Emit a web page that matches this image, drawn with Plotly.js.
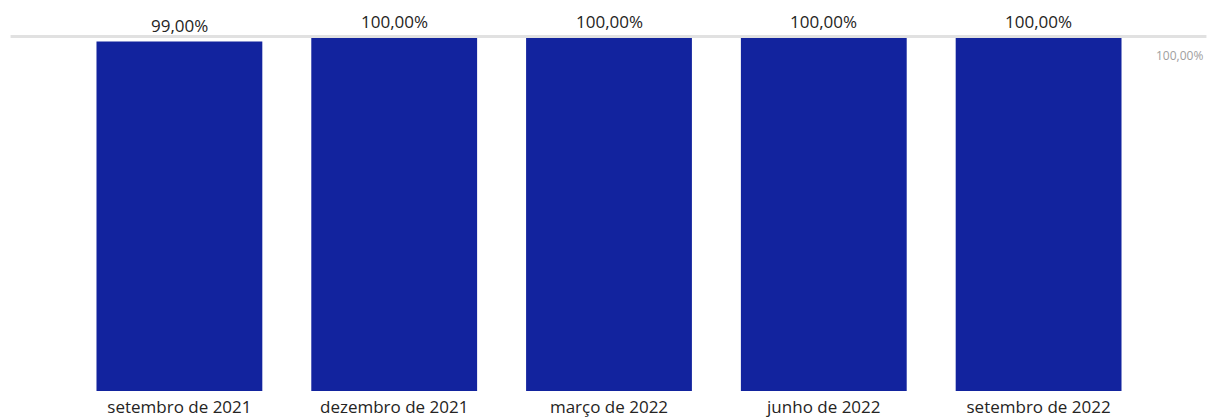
<!DOCTYPE html>
<html>
<head>
<meta charset="utf-8">
<script src="https://cdn.plot.ly/plotly-3.0.1.min.js"></script>
<style>html,body{margin:0;padding:0;background:#fff;}#chart{width:1207px;height:417px;}</style>
</head>
<body>
<div id="chart"></div>
<script>
const categories = ["setembro de 2021", "dezembro de 2021", "março de 2022", "junho de 2022", "setembro de 2022"];
const values = [99, 100, 100, 100, 100];
const valueLabels = ["99,00%", "100,00%", "100,00%", "100,00%", "100,00%"];
const referenceValue = 100;
const referenceLabel = "100,00%";

const FONT = "Open Sans, sans-serif";
const Y_MAX = 100;

const trace = {
  type: "bar",
  x: categories,
  y: values,
  marker: {color: "#12239E"},
  hoverinfo: "skip"
};

const labelAnnotations = categories.map((c, i) => ({
  x: c, y: values[i], xref: "x", yref: "y",
  text: valueLabels[i], showarrow: false,
  xanchor: "center", yanchor: "bottom", yshift: 3,
  font: {family: FONT, size: 17, color: "#252423"}
}));

// reference line drawn just above the plot top (paper coords so it is not clipped)
const refPaper = referenceValue / Y_MAX;

const layout = {
  width: 1207, height: 417,
  margin: {l: 71.5, r: 60.5, t: 38, b: 26},
  paper_bgcolor: "#fff", plot_bgcolor: "#fff",
  bargap: 0.228,
  showlegend: false,
  font: {family: FONT, color: "#252423"},
  xaxis: {
    type: "category",
    showgrid: false, showline: false, zeroline: false, ticks: "",
    tickfont: {family: FONT, size: 17, color: "#252423"},
    ticklabelstandoff: 4
  },
  yaxis: {
    range: [0, Y_MAX], visible: false, showgrid: false, zeroline: false, fixedrange: true
  },
  shapes: [{
    type: "rect", xref: "paper", yref: "paper",
    x0: (10 - 71.5) / 1075, x1: (1207 - 71.5) / 1075,
    y0: refPaper, y1: refPaper + 3 / 353,
    fillcolor: "#E1E1E1", line: {width: 0},
    layer: "below"
  }],
  annotations: labelAnnotations.concat([{
    xref: "paper", yref: "y", x: (1206 - 71.5) / 1075, y: referenceValue,
    xanchor: "right", yanchor: "middle", yshift: -17,
    text: referenceLabel, showarrow: false,
    font: {family: FONT, size: 12, color: "#A0A0A0"}
  }])
};

Plotly.newPlot("chart", [trace], layout, {displayModeBar: false, staticPlot: true});
</script>
</body>
</html>
